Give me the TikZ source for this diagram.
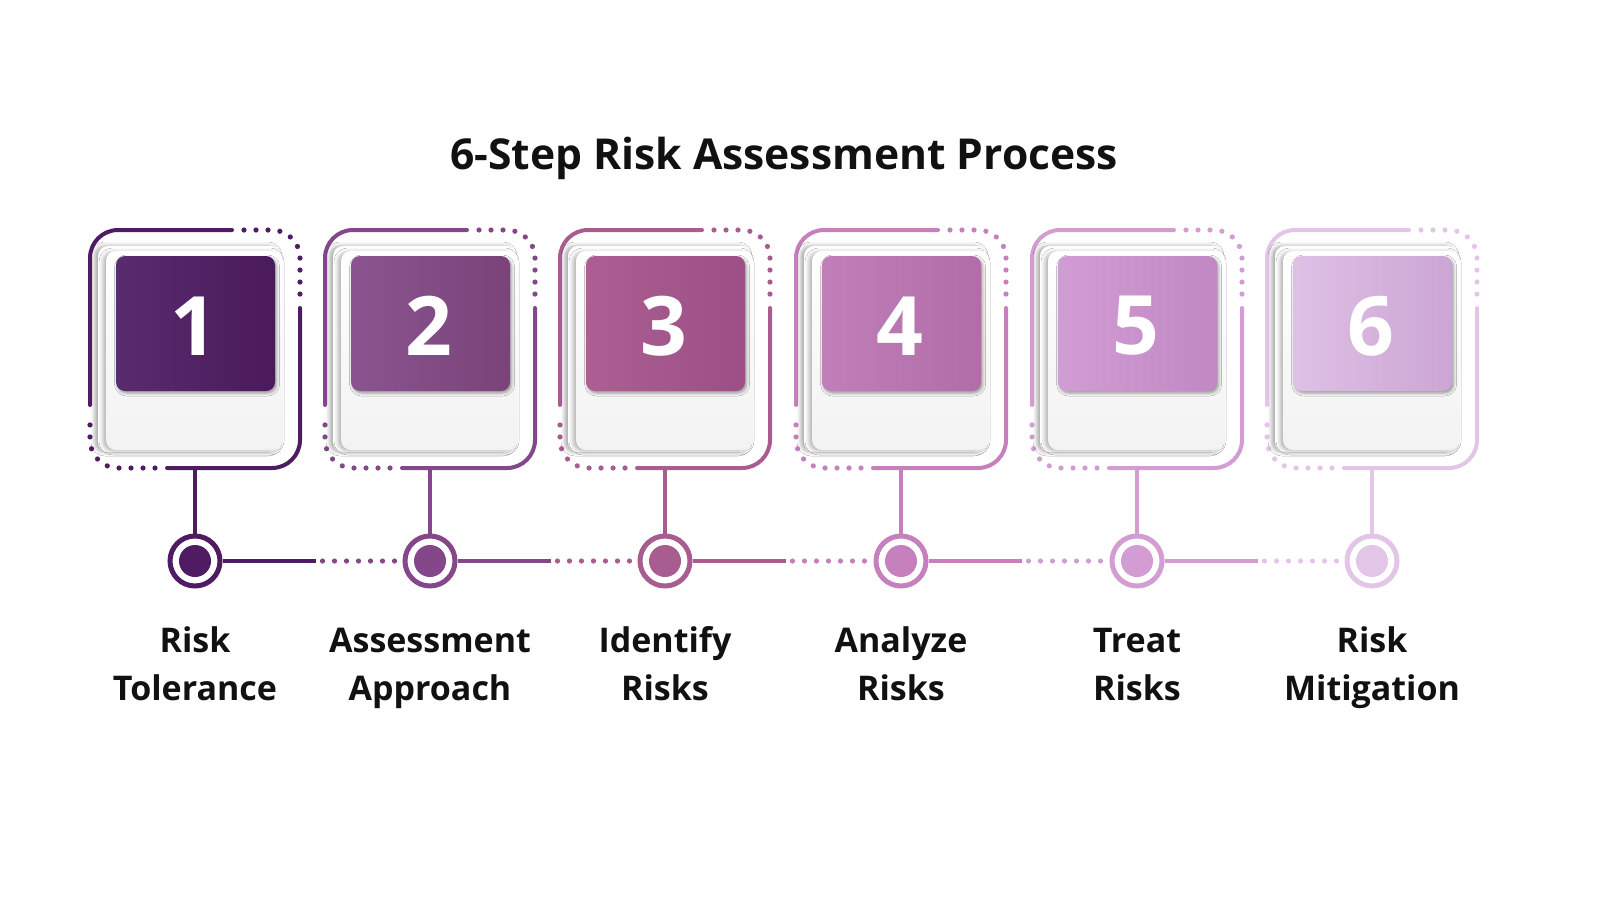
\documentclass[tikz,border=0pt]{standalone}
\usepackage{fontspec}
\IfFontExistsTF{Noto Sans Bold}
  {\setmainfont{Noto Sans}[BoldFont={Noto Sans Bold}]}
  {\IfFontExistsTF{Open Sans Bold}
    {\setmainfont{Open Sans}[BoldFont={Open Sans Bold}]}
    {\setmainfont{Liberation Sans}}}
\usetikzlibrary{shadows.blur}
\definecolor{f1}{HTML}{4F1C63}\definecolor{a1}{HTML}{5A2C6D}\definecolor{b1}{HTML}{4A1A5B}
\definecolor{f2}{HTML}{83478A}\definecolor{a2}{HTML}{8A5490}\definecolor{b2}{HTML}{7A4379}
\definecolor{f3}{HTML}{A95C90}\definecolor{a3}{HTML}{AD5F93}\definecolor{b3}{HTML}{9B4F84}
\definecolor{f4}{HTML}{C580BD}\definecolor{a4}{HTML}{C17FBA}\definecolor{b4}{HTML}{B06DA7}
\definecolor{f5}{HTML}{D39DD4}\definecolor{a5}{HTML}{D19CD4}\definecolor{b5}{HTML}{C188C4}
\definecolor{f6}{HTML}{E3C5E8}\definecolor{a6}{HTML}{DEC0E5}\definecolor{b6}{HTML}{CCA6D4}
\definecolor{txt}{HTML}{111111}
\begin{document}
\begin{tikzpicture}[x=0.5pt,y=-0.5pt,
  frameline/.style={line width=2pt, line cap=round},
  dotline/.style={line width=2.6pt, line cap=round, dash pattern=on 0pt off 6pt},
  conn/.style={line width=2pt},
  backcard/.style={fill=white, rounded corners=5pt,
    blur shadow={shadow xshift=-1.5pt, shadow yshift=0pt, shadow opacity=35, shadow blur radius=2pt}},
  frontcard/.style={top color=white, bottom color=black!5, rounded corners=5pt,
    blur shadow={shadow xshift=-1.5pt, shadow yshift=-0.5pt, shadow opacity=30, shadow blur radius=2pt}},
  numbox/.style={rounded corners=4.5pt,
    blur shadow={shadow xshift=0.8pt, shadow yshift=-1pt, shadow opacity=40, shadow blur radius=1.5pt}},
  numtext/.style={text=white, font=\fontsize{41}{41}\selectfont\bfseries, inner sep=0pt},
  ring/.style={circle, line width=2.5pt, fill=white, minimum size=25pt, inner sep=0pt},
  dot/.style={circle, minimum size=16pt, inner sep=0pt},
  label/.style={text=txt, font=\fontsize{17}{17}\selectfont\bfseries, anchor=base, inner sep=0pt},
  title/.style={text=txt, font=\fontsize{21.3}{21.3}\selectfont\bfseries, anchor=base, inner sep=0pt}
]
\fill[white] (0,0) rectangle (1600,900);

\node[title] (title) at (784,169) {6-Step Risk Assessment Process};

\foreach \i/\cx in {1/195,2/430,3/665,4/901,5/1137,6/1372}{
  % frame
  \draw[frameline, f\i, rounded corners=14pt] (\cx-105,405) -- (\cx-105,230) -- (\cx+37,230);
  \draw[dotline, f\i, rounded corners=14pt] (\cx+49,230) -- (\cx+105,230) -- (\cx+105,298);
  \draw[frameline, f\i, rounded corners=14pt] (\cx+105,308) -- (\cx+105,468) -- (\cx-28,468);
  \draw[dotline, f\i, rounded corners=14pt] (\cx-40,468) -- (\cx-105,468) -- (\cx-105,417);
  % cards
  \path[backcard] (\cx-97,246) rectangle (\cx+86,452);
  \path[frontcard] (\cx-89,251) rectangle (\cx+88,450);
  \path[numbox, left color=a\i, right color=b\i] (\cx-79,256) rectangle (\cx+80,391);
  \node[numtext] (num\i) at (\cx-1,326) {\i};
  % stem and ring
  \coordinate (fb\i) at (\cx,468);
  \node[ring, draw=f\i] (ring\i) at (\cx,561) {};
  \node[dot, fill=f\i] (dot\i) at (ring\i) {};
  \draw[conn, f\i] (fb\i) -- (ring\i.north);
}

\foreach \i/\j in {1/2,2/3,3/4,4/5,5/6}{
  \draw[conn, f\i] (ring\i.east) -- ++(93,0) coordinate (m\i);
  \draw[dotline, f\j] ([xshift=3.5pt]m\i) -- ([xshift=-3pt]ring\j.west);
}

\node[label] (l1a) at (195,652) {Risk};
\node[label] (l1b) at (195,700) {Tolerance};
\node[label] (l2a) at (430,652) {Assessment};
\node[label] (l2b) at (430,700) {Approach};
\node[label] (l3a) at (665,652) {Identify};
\node[label] (l3b) at (665,700) {Risks};
\node[label] (l4a) at (901,652) {Analyze};
\node[label] (l4b) at (901,700) {Risks};
\node[label] (l5a) at (1137,652) {Treat};
\node[label] (l5b) at (1137,700) {Risks};
\node[label] (l6a) at (1372,652) {Risk};
\node[label] (l6b) at (1372,700) {Mitigation};

\pgfresetboundingbox
\path[use as bounding box] (0,0) rectangle (1600,900);
\end{tikzpicture}
\end{document}
